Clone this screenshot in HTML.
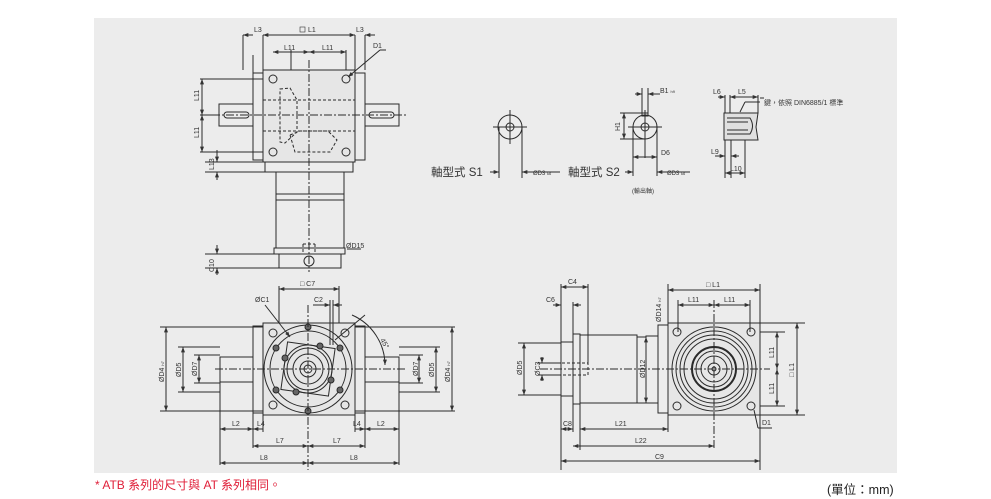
<!DOCTYPE html>
<html><head><meta charset="utf-8"><style>
html,body{margin:0;padding:0;background:#fff;width:991px;height:499px;overflow:hidden}
svg{display:block}
text{font-family:"Liberation Sans","Noto Sans CJK TC",sans-serif;fill:#333}
</style></head><body>
<svg width="991" height="499" viewBox="0 0 991 499" xmlns="http://www.w3.org/2000/svg">
<defs>
<marker id="a" viewBox="0 0 8 6" refX="8" refY="3" markerWidth="6" markerHeight="4" orient="auto-start-reverse"><path d="M0,0L8,3L0,6z" fill="#333"/></marker>
</defs>
<rect x="94" y="18" width="803" height="455" fill="#ececec"/>
<g stroke="#2a2a2a" stroke-width="1" fill="none">
<!-- TOP VIEW -->
<rect x="263" y="70" width="92" height="92" fill="#e6e6e6"/>
<rect x="253" y="73" width="10" height="87"/>
<rect x="355" y="73" width="10" height="87"/>
<rect x="219" y="104" width="34" height="22"/>
<rect x="365" y="104" width="34" height="22"/>
<rect x="224" y="112" width="25" height="6" rx="3"/>
<rect x="369" y="112" width="25" height="6" rx="3"/>
<circle cx="273" cy="79" r="4"/><circle cx="346" cy="79" r="4"/><circle cx="273" cy="152" r="4"/><circle cx="346" cy="152" r="4"/>
<g stroke-dasharray="3,2"><path d="M263,100H355M263,131H355M280,89L290,88L297,100V132L285,143L280,142Z M290,135L300,131H328L337,140L330,152H295Z"/></g>
<rect x="265" y="162" width="88" height="10"/>
<rect x="276" y="172" width="68" height="76"/>
<line x1="276" y1="194" x2="344" y2="194"/><line x1="276" y1="200" x2="344" y2="200"/>
<rect x="274" y="248" width="71" height="6"/>
<rect x="279" y="254" width="62" height="14"/>
<circle cx="309" cy="261" r="5"/>
<path stroke-dasharray="3,2" d="M303,244V254M315,244V254M303,244H315"/>
<line x1="309" y1="60" x2="309" y2="272" stroke-dasharray="8,2,2,2"/>
<line x1="212" y1="115" x2="406" y2="115" stroke-dasharray="8,2,2,2"/>
<path d="M243,35V70M263,35V70M355,35V70M365,35V70M253,55V73M291,50V70M346,50V70M200,79H263M200,152H263M200,115H219M205,162H263M205,172H265M205,254H279M205,268H279"/>
<line x1="243" y1="35" x2="253" y2="35" marker-start="url(#a)"/>
<line x1="263" y1="35" x2="355" y2="35" marker-start="url(#a)" marker-end="url(#a)"/>
<line x1="365" y1="35" x2="375" y2="35" marker-start="url(#a)"/>
<line x1="273" y1="52" x2="309" y2="52" marker-start="url(#a)" marker-end="url(#a)"/>
<line x1="309" y1="52" x2="346" y2="52" marker-start="url(#a)" marker-end="url(#a)"/>
<line x1="202" y1="79" x2="202" y2="115" marker-start="url(#a)" marker-end="url(#a)"/>
<line x1="202" y1="115" x2="202" y2="152" marker-start="url(#a)" marker-end="url(#a)"/>
<line x1="217" y1="150" x2="217" y2="162" marker-end="url(#a)"/>
<line x1="217" y1="172" x2="217" y2="180" marker-start="url(#a)"/>
<line x1="217" y1="245" x2="217" y2="254" marker-end="url(#a)"/>
<line x1="217" y1="268" x2="217" y2="275" marker-start="url(#a)"/>
<line x1="380" y1="50" x2="348" y2="77" marker-end="url(#a)"/><line x1="380" y1="50" x2="386" y2="50"/>
<line x1="347" y1="249" x2="361" y2="249"/>
<!-- S1 -->
<circle cx="510" cy="127" r="12"/><circle cx="510" cy="127" r="4"/>
<path d="M510,110V144M493,127H527M499,127V178M522,127V178"/>
<line x1="490" y1="172" x2="499" y2="172" marker-end="url(#a)"/>
<line x1="522" y1="172" x2="560" y2="172" marker-start="url(#a)"/>
<!-- S2 -->
<circle cx="645" cy="127" r="12"/><circle cx="645" cy="127" r="4"/>
<rect x="642" y="113" width="6" height="3"/>
<path d="M645,110V144M628,127H662M633,127V176M657,127V176M642,88V114M648,88V114M645,127V158M620,113H642M620,139H645"/>
<line x1="624" y1="113" x2="624" y2="139" marker-start="url(#a)" marker-end="url(#a)"/>
<line x1="635" y1="94" x2="642" y2="94" marker-end="url(#a)"/>
<line x1="648" y1="94" x2="660" y2="94" marker-start="url(#a)"/>
<line x1="633" y1="157" x2="657" y2="157" marker-start="url(#a)" marker-end="url(#a)"/>
<line x1="625" y1="172" x2="633" y2="172" marker-end="url(#a)"/>
<line x1="657" y1="172" x2="690" y2="172" marker-start="url(#a)"/>
<!-- key view -->
<path d="M724,113H758L756,127L758,140H724Z" fill="#e0e0e0"/>
<path d="M727,118H750Q755,126 750,134H727M727,122H748M727,130H748" />
<path d="M725,95V113M730,95V113M758,95V113M725,140V178M731,140V178M745,140V178M760,98H764"/>
<line x1="718" y1="97" x2="725" y2="97" marker-end="url(#a)"/>
<line x1="730" y1="97" x2="758" y2="97" marker-start="url(#a)" marker-end="url(#a)"/>
<line x1="715" y1="156" x2="725" y2="156" marker-end="url(#a)"/>
<line x1="731" y1="156" x2="739" y2="156" marker-start="url(#a)"/>
<line x1="725" y1="173" x2="745" y2="173" marker-start="url(#a)" marker-end="url(#a)"/>
<line x1="745" y1="102" x2="740" y2="112"/><line x1="745" y1="102" x2="760" y2="102"/>
<!-- BOTTOM LEFT VIEW -->
<rect x="263" y="323" width="92" height="92" fill="#e6e6e6"/>
<rect x="253" y="326" width="10" height="87"/>
<rect x="355" y="326" width="10" height="87"/>
<rect x="220" y="357" width="33" height="25"/>
<rect x="365" y="357" width="34" height="25"/>
<circle cx="308" cy="369" r="44"/><circle cx="308" cy="369" r="38"/>
<rect x="284" y="345" width="48" height="48" transform="rotate(8 308 369)"/>
<circle cx="308" cy="369" r="24"/><circle cx="308" cy="369" r="21"/><circle cx="308" cy="369" r="15"/><circle cx="308" cy="369" r="8"/><circle cx="308" cy="369" r="4"/>
<g fill="#666">
<circle cx="308" cy="327" r="3"/><circle cx="308" cy="411" r="3"/><circle cx="276" cy="348" r="3"/><circle cx="340" cy="348" r="3"/><circle cx="276" cy="390" r="3"/><circle cx="340" cy="390" r="3"/><circle cx="285" cy="358" r="3"/><circle cx="331" cy="380" r="3"/><circle cx="296" cy="392" r="3"/><circle cx="320" cy="346" r="3"/>
</g>
<circle cx="273" cy="333" r="4"/><circle cx="345" cy="333" r="4"/><circle cx="273" cy="405" r="4"/><circle cx="345" cy="405" r="4"/>
<line x1="308" y1="305" x2="308" y2="470" stroke-dasharray="8,2,2,2"/>
<line x1="215" y1="369" x2="405" y2="369" stroke-dasharray="8,2,2,2"/>
<path d="M160,327H263M178,347H220M194,355H220M178,392H220M194,383H220M160,411H263M355,327H455M399,347H440M399,355H423M399,392H440M399,383H423M355,411H455"/>
<line x1="166" y1="327" x2="166" y2="411" marker-start="url(#a)" marker-end="url(#a)"/>
<line x1="183" y1="347" x2="183" y2="392" marker-start="url(#a)" marker-end="url(#a)"/>
<line x1="199" y1="355" x2="199" y2="383" marker-start="url(#a)" marker-end="url(#a)"/>
<line x1="452" y1="327" x2="452" y2="411" marker-start="url(#a)" marker-end="url(#a)"/>
<line x1="436" y1="347" x2="436" y2="392" marker-start="url(#a)" marker-end="url(#a)"/>
<line x1="419" y1="355" x2="419" y2="383" marker-start="url(#a)" marker-end="url(#a)"/>
<path d="M279,286V323M339,286V323M330,300V345M333,300V345M220,382V465M399,382V465M253,413V448M365,413V448M263,415V432M355,415V432"/>
<line x1="279" y1="289" x2="339" y2="289" marker-start="url(#a)" marker-end="url(#a)"/>
<line x1="313" y1="305" x2="330" y2="305" marker-end="url(#a)"/>
<line x1="333" y1="305" x2="342" y2="305" marker-start="url(#a)"/>
<line x1="265" y1="305" x2="290" y2="337" marker-end="url(#a)"/>
<path d="M352,315A55,55 0 0 1 385,365" marker-end="url(#a)"/>
<line x1="335" y1="340" x2="365" y2="315"/>
<line x1="220" y1="429" x2="253" y2="429" marker-start="url(#a)" marker-end="url(#a)"/>
<line x1="253" y1="429" x2="263" y2="429" marker-start="url(#a)"/>
<line x1="355" y1="429" x2="365" y2="429" marker-end="url(#a)"/>
<line x1="365" y1="429" x2="399" y2="429" marker-start="url(#a)" marker-end="url(#a)"/>
<line x1="253" y1="446" x2="308" y2="446" marker-start="url(#a)" marker-end="url(#a)"/>
<line x1="308" y1="446" x2="365" y2="446" marker-start="url(#a)" marker-end="url(#a)"/>
<line x1="220" y1="463" x2="308" y2="463" marker-start="url(#a)" marker-end="url(#a)"/>
<line x1="308" y1="463" x2="399" y2="463" marker-start="url(#a)" marker-end="url(#a)"/>
<!-- BOTTOM RIGHT VIEW -->
<rect x="668" y="323" width="92" height="92" fill="#e6e6e6"/>
<rect x="658" y="325" width="10" height="88"/>
<rect x="646" y="336" width="12" height="67"/>
<rect x="637" y="337" width="9" height="66"/>
<rect x="580" y="335" width="57" height="68"/>
<rect x="573" y="334" width="7" height="70"/>
<rect x="561" y="342" width="12" height="54"/>
<path stroke-dasharray="3,2" d="M562,363H588V375H562"/>
<circle cx="714" cy="369" r="42"/><circle cx="714" cy="369" r="38"/><circle cx="714" cy="369" r="34"/><circle cx="714" cy="369" r="30"/>
<circle cx="714" cy="369" r="22" stroke-width="2"/><circle cx="714" cy="369" r="18"/><circle cx="714" cy="369" r="13"/><circle cx="714" cy="369" r="6"/><circle cx="714" cy="369" r="2"/>
<circle cx="677" cy="332" r="4"/><circle cx="751" cy="332" r="4"/><circle cx="677" cy="406" r="4"/><circle cx="751" cy="406" r="4"/>
<line x1="714" y1="300" x2="714" y2="450" stroke-dasharray="8,2,2,2"/>
<line x1="540" y1="369" x2="770" y2="369" stroke-dasharray="8,2,2,2"/>
<path d="M561,284V470M588,284V363M573,302V334M668,284V323M760,284V470M678,300V332M750,300V332M518,343H561M518,395H561M538,363H561M538,375H561M760,332H785M760,406H785M760,323H805M760,415H805M580,403V450M668,415V432M573,404V432"/>
<line x1="561" y1="287" x2="588" y2="287" marker-start="url(#a)" marker-end="url(#a)"/>
<line x1="553" y1="305" x2="561" y2="305" marker-end="url(#a)"/>
<line x1="573" y1="305" x2="581" y2="305" marker-start="url(#a)"/>
<line x1="668" y1="290" x2="760" y2="290" marker-start="url(#a)" marker-end="url(#a)"/>
<line x1="678" y1="305" x2="714" y2="305" marker-start="url(#a)" marker-end="url(#a)"/>
<line x1="714" y1="305" x2="750" y2="305" marker-start="url(#a)" marker-end="url(#a)"/>
<line x1="524" y1="343" x2="524" y2="395" marker-start="url(#a)" marker-end="url(#a)"/>
<line x1="542" y1="357" x2="542" y2="363" marker-end="url(#a)"/>
<line x1="542" y1="375" x2="542" y2="381" marker-start="url(#a)"/>
<line x1="646" y1="337" x2="646" y2="403" marker-start="url(#a)" marker-end="url(#a)"/>
<line x1="777" y1="332" x2="777" y2="369" marker-start="url(#a)" marker-end="url(#a)"/>
<line x1="777" y1="369" x2="777" y2="406" marker-start="url(#a)" marker-end="url(#a)"/>
<line x1="797" y1="323" x2="797" y2="415" marker-start="url(#a)" marker-end="url(#a)"/>
<line x1="561" y1="429" x2="573" y2="429" marker-start="url(#a)" marker-end="url(#a)"/>
<line x1="580" y1="429" x2="668" y2="429" marker-start="url(#a)" marker-end="url(#a)"/>
<line x1="573" y1="446" x2="714" y2="446" marker-start="url(#a)" marker-end="url(#a)"/>
<line x1="561" y1="461" x2="760" y2="461" marker-start="url(#a)" marker-end="url(#a)"/>
<line x1="754" y1="410" x2="758" y2="428"/><line x1="758" y1="428" x2="772" y2="428"/>
</g>
<g font-size="7">
<text x="254" y="32">L3</text><rect x="300" y="27" width="5" height="5" fill="none" stroke="#333" stroke-width="0.6"/><text x="308" y="32">L1</text><text x="356" y="32">L3</text>
<text x="284" y="50">L11</text><text x="322" y="50">L11</text><text x="373" y="48">D1</text>
<text transform="translate(199,101) rotate(-90)">L11</text><text transform="translate(199,138) rotate(-90)">L11</text>
<text transform="translate(214,170) rotate(-90)">L13</text><text transform="translate(214,272) rotate(-90)">C10</text>
<text x="346" y="248">ØD15</text>
<text x="533" y="175" font-size="6">ØD3 <tspan font-size="4">k6</tspan></text>
<text x="660" y="93" font-size="7">B1 <tspan font-size="4">h9</tspan></text>
<text transform="translate(620,131) rotate(-90)">H1</text>
<text x="661" y="155">D6</text>
<text x="667" y="175" font-size="6">ØD3 <tspan font-size="4">k6</tspan></text>
<text x="632" y="193" font-size="6">(輸出軸)</text>
<text x="713" y="94">L6</text><text x="738" y="94">L5</text>
<text x="764" y="105">鍵，依照 DIN6885/1 標準</text>
<text x="711" y="154">L9</text><text x="730" y="171">L10</text>
<text x="300" y="286">□ C7</text><text x="314" y="302">C2</text><text x="255" y="302">ØC1</text>
<text transform="translate(380,340) rotate(60)">45°</text>
<text transform="translate(164,382) rotate(-90)">ØD4 <tspan font-size="4">h7</tspan></text>
<text transform="translate(181,377) rotate(-90)">ØD5</text>
<text transform="translate(197,376) rotate(-90)">ØD7</text>
<text transform="translate(418,376) rotate(-90)">ØD7</text>
<text transform="translate(434,377) rotate(-90)">ØD5</text>
<text transform="translate(450,382) rotate(-90)">ØD4 <tspan font-size="4">h7</tspan></text>
<text x="232" y="426">L2</text><text x="257" y="426">L4</text><text x="353" y="426">L4</text><text x="377" y="426">L2</text>
<text x="276" y="443">L7</text><text x="333" y="443">L7</text>
<text x="260" y="460">L8</text><text x="350" y="460">L8</text>
<text x="568" y="284">C4</text><text x="546" y="302">C6</text>
<text transform="translate(522,375) rotate(-90)">ØD5</text>
<text transform="translate(540,376) rotate(-90)">ØC3</text>
<text transform="translate(645,378) rotate(-90)">ØD12</text>
<text transform="translate(661,322) rotate(-90)">ØD14 <tspan font-size="4">h7</tspan></text>
<text x="706" y="287">□ L1</text><text x="688" y="302">L11</text><text x="724" y="302">L11</text>
<text transform="translate(774,358) rotate(-90)">L11</text><text transform="translate(774,394) rotate(-90)">L11</text>
<text transform="translate(794,377) rotate(-90)">□ L1</text>
<text x="762" y="425">D1</text>
<text x="563" y="426">C8</text><text x="615" y="426">L21</text><text x="635" y="443">L22</text><text x="655" y="459">C9</text>
</g>
<text x="431" y="176" font-size="11.5">軸型式 S1</text>
<text x="568" y="176" font-size="11.5">軸型式 S2</text>
<text x="95" y="489" font-size="12" style="fill:#e0203a">* ATB 系列的尺寸與 AT 系列相同。</text>
<text x="827" y="494" font-size="12.5" style="fill:#222">(單位：mm)</text>
</svg>
</body></html>
